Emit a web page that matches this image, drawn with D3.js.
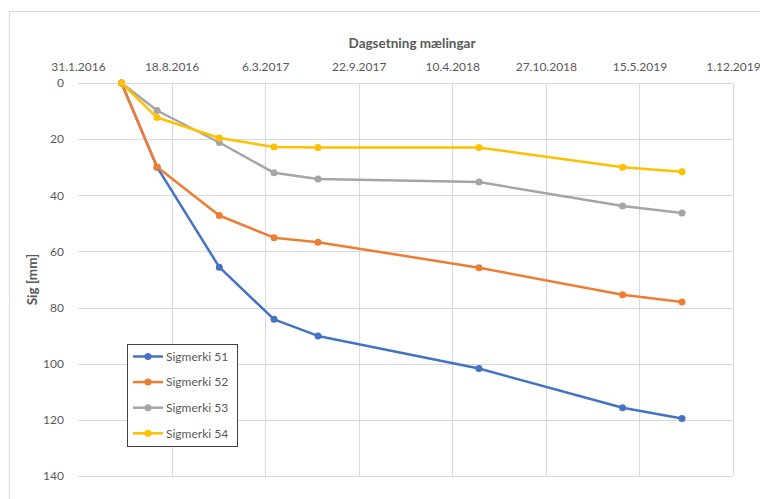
<!DOCTYPE html>
<html>
<head>
<meta charset="utf-8">
<script src="https://cdn.jsdelivr.net/npm/d3@7"></script>
<style>
  body { margin: 0; background: #fff; }
  svg { display: block; font-family: Lato, "Open Sans", sans-serif; }
</style>
</head>
<body>
<div id="chart"></div>
<script>
// tick labels along the top (Excel date axis, 200 day step)
const tickLabels = ["31.1.2016", "18.8.2016", "6.3.2017", "22.9.2017", "10.4.2018", "27.10.2018", "15.5.2019", "1.12.2019"];
const yTicks = [0, 20, 40, 60, 80, 100, 120, 140];

// measurement dates
const dates = ["3.5.2016", "18.7.2016", "28.11.2016", "25.3.2017", "27.6.2017", "6.6.2018", "9.4.2019", "14.8.2019"];

const seriesNames = ["Sigmerki 51", "Sigmerki 52", "Sigmerki 53", "Sigmerki 54"];
const colors = ["#4472c4", "#ed7d31", "#a5a5a5", "#ffc000"];

const sig51 = [0, 30.0, 65.6, 84.2, 90.1, 101.7, 115.7, 119.5];
const sig52 = [0, 29.9, 47.2, 55.1, 56.7, 65.8, 75.4, 78.0];
const sig53 = [0, 9.8, 21.2, 32.0, 34.2, 35.3, 43.8, 46.3];
const sig54 = [0, 12.3, 19.6, 22.8, 23.0, 23.0, 30.0, 31.6];

const parseDate = d3.utcParse("%d.%m.%Y");
const series = [sig51, sig52, sig53, sig54].map((vals, i) => ({
    name: seriesNames[i],
    color: colors[i],
    points: vals.map((v, j) => ({ date: parseDate(dates[j]), value: v }))
}));

const width = 760, height = 499;
const margin = { top: 83, left: 78, right: 27, bottom: 23 };

const svg = d3.select("#chart").append("svg")
    .attr("width", width)
    .attr("height", height);

// outer chart border (runs off the picture at right and bottom)
svg.append("rect")
    .attr("x", 9.5).attr("y", 11.5)
    .attr("width", 800).attr("height", 600)
    .attr("fill", "none")
    .attr("stroke", "#d9d9d9");

const tickDates = tickLabels.map(parseDate);
const x = d3.scaleUtc()
    .domain([tickDates[0], tickDates[tickDates.length - 1]])
    .range([margin.left, width - margin.right]);

const y = d3.scaleLinear()
    .domain([0, 140])
    .range([margin.top, height - margin.bottom]);

// gridlines
svg.append("g").selectAll("line.h")
    .data(yTicks)
    .join("line")
    .attr("x1", margin.left).attr("x2", width - margin.right)
    .attr("y1", d => Math.round(y(d)) + 0.5).attr("y2", d => Math.round(y(d)) + 0.5)
    .attr("stroke", "#d9d9d9");

svg.append("g").selectAll("line.v")
    .data(tickDates.slice(1))
    .join("line")
    .attr("x1", d => Math.round(x(d)) + 0.5).attr("x2", d => Math.round(x(d)) + 0.5)
    .attr("y1", margin.top).attr("y2", height - margin.bottom)
    .attr("stroke", "#d9d9d9");

// top date axis
const xAxis = d3.axisTop(x)
    .tickValues(tickDates)
    .tickFormat((d, i) => tickLabels[i])
    .tickSize(0)
    .tickPadding(12);

svg.append("g")
    .attr("transform", `translate(0,${margin.top})`)
    .call(xAxis)
    .call(g => g.select(".domain").remove())
    .selectAll("text")
    .attr("fill", "#595959")
    .attr("font-size", 12)
    .attr("font-family", "Lato, sans-serif");

const yAxis = d3.axisLeft(y)
    .tickValues(yTicks)
    .tickSize(0)
    .tickPadding(14);

svg.append("g")
    .attr("transform", `translate(${margin.left},0)`)
    .call(yAxis)
    .call(g => g.select(".domain").remove())
    .selectAll("text")
    .attr("fill", "#595959")
    .attr("font-size", 12)
    .attr("font-family", "Lato, sans-serif");

// axis titles
svg.append("text")
    .attr("x", 412)
    .attr("y", 48)
    .attr("text-anchor", "middle")
    .attr("fill", "#595959")
    .attr("font-size", 13.5)
    .attr("font-weight", 700)
    .text("Dagsetning mælingar");

svg.append("text")
    .attr("transform", `translate(37,${(margin.top + height - margin.bottom) / 2}) rotate(-90)`)
    .attr("text-anchor", "middle")
    .attr("fill", "#595959")
    .attr("font-size", 13.5)
    .attr("font-weight", 700)
    .text("Sig [mm]");

// lines + markers
const line = d3.line()
    .x(d => x(d.date))
    .y(d => y(d.value));

const seriesG = svg.append("g").selectAll("g")
    .data(series)
    .join("g");

seriesG.append("path")
    .attr("d", d => line(d.points))
    .attr("fill", "none")
    .attr("stroke", d => d.color)
    .attr("stroke-width", 2.5)
    .attr("stroke-linejoin", "round");

seriesG.selectAll("circle")
    .data(d => d.points.map(p => ({ ...p, color: d.color })))
    .join("circle")
    .attr("cx", d => x(d.date))
    .attr("cy", d => y(d.value))
    .attr("r", 3.5)
    .attr("fill", d => d.color);

// legend
const legend = svg.append("g").attr("transform", "translate(127,344)");
legend.append("rect")
    .attr("x", 0.5).attr("y", 0.5)
    .attr("width", 110).attr("height", 102)
    .attr("fill", "#fff")
    .attr("stroke", "#404040");

const rows = legend.selectAll("g.row")
    .data(series)
    .join("g")
    .attr("class", "row")
    .attr("transform", (d, i) => `translate(0,${12.5 + i * 25.6})`);

rows.append("line")
    .attr("x1", 6).attr("x2", 36)
    .attr("stroke", d => d.color)
    .attr("stroke-width", 2.5);
rows.append("circle")
    .attr("cx", 21).attr("r", 3.5)
    .attr("fill", d => d.color);
rows.append("text")
    .attr("x", 39).attr("dy", "0.35em")
    .attr("fill", "#595959")
    .attr("font-size", 12)
    .text(d => d.name);
</script>
</body>
</html>
